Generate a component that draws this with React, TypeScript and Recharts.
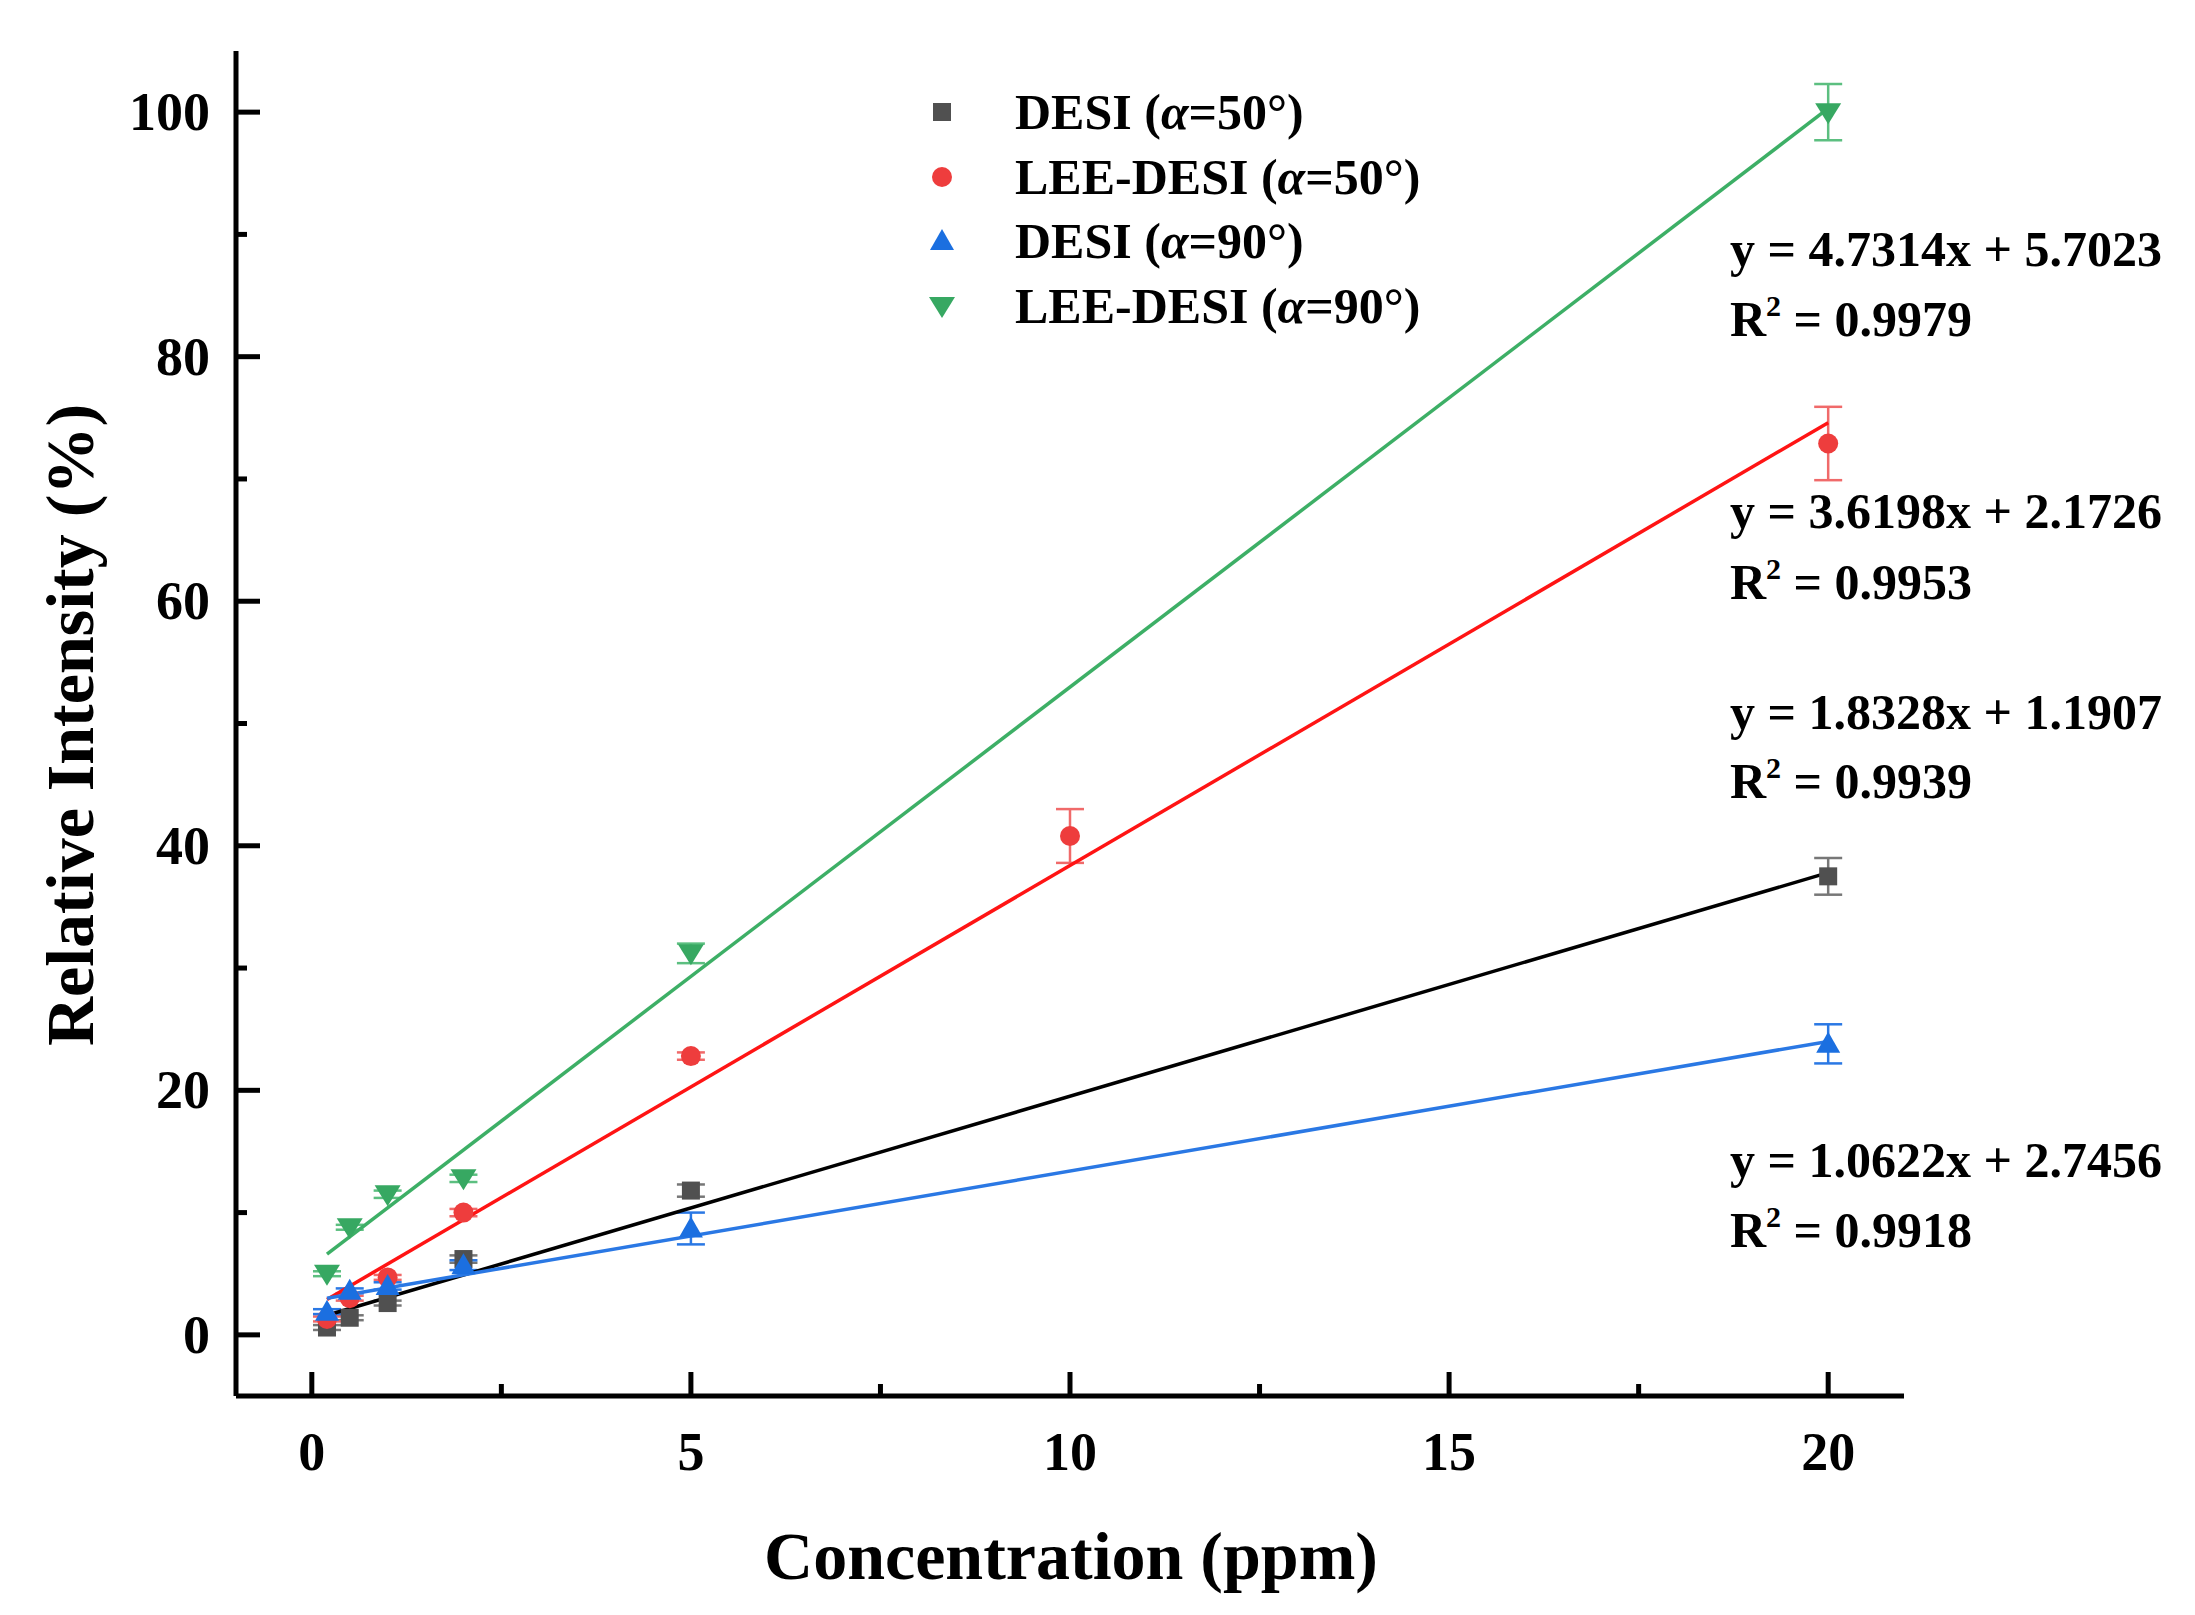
import React from "react";
import { ErrorBar, Scatter, ScatterChart, XAxis, YAxis } from "recharts";

// concentrations (ppm) and relative intensity (%)
const concDesi50 = [0.2, 0.5, 1, 2, 5, 20];
const intDesi50 = [0.6, 1.4, 2.6, 6.2, 11.8, 37.5];
const errDesi50 = [0.2, 0.2, 0.2, 0.3, 0.5, 1.5];

const concLee50 = [0.2, 0.5, 1, 2, 5, 10, 20];
const intLee50 = [1.3, 3.0, 4.7, 10.0, 22.8, 40.8, 72.9];
const errLee50 = [0.2, 0.2, 0.2, 0.3, 0.3, 2.2, 3.0];

const concDesi90 = [0.2, 0.5, 1, 2, 5, 20];
const intDesi90 = [1.9, 3.6, 4.0, 5.7, 8.7, 23.8];
const errDesi90 = [0.2, 0.2, 0.3, 0.4, 1.3, 1.6];

const concLee90 = [0.2, 0.5, 1, 2, 5, 20];
const intLee90 = [5.0, 8.8, 11.5, 12.8, 31.2, 100.0];
const errLee90 = [0.2, 0.2, 0.3, 0.3, 0.8, 2.3];

// fitted line end points
const fitX = [0.2, 20];
const fitDesi50 = [1.6, 37.8];
const fitLee50 = [2.9, 74.6];
const fitDesi90 = [3.0, 24.0];
const fitLee90 = [6.6, 100.3];

const seriesNames = [
	"DESI (α=50°)",
	"LEE-DESI (α=50°)",
	"DESI (α=90°)",
	"LEE-DESI (α=90°)",
];
const equations = [
	["y = 4.7314x + 5.7023", "0.9979"],
	["y = 3.6198x + 2.1726", "0.9953"],
	["y = 1.8328x + 1.1907", "0.9939"],
	["y = 1.0622x + 2.7456", "0.9918"],
];

const xTicks = [0, 2.5, 5, 7.5, 10, 12.5, 15, 17.5, 20];
const yTicks = [0, 10, 20, 30, 40, 50, 60, 70, 80, 90, 100];

const FONT = '"Liberation Serif", "Times New Roman", serif';

const zip = (xs: number[], ys: number[], es?: number[]) =>
	xs.map((x, i) => ({ x, y: ys[i], e: es ? es[i] : 0 }));

const Square = ({ cx, cy, fill }: any) => (
	<rect x={cx - 9} y={cy - 9} width={18} height={18} fill={fill} />
);
const Dot = ({ cx, cy, fill }: any) => <circle cx={cx} cy={cy} r={10} fill={fill} />;
const TriUp = ({ cx, cy, fill }: any) => (
	<polygon points={`${cx},${cy - 12} ${cx + 12},${cy + 9} ${cx - 12},${cy + 9}`} fill={fill} />
);
const TriDown = ({ cx, cy, fill }: any) => (
	<polygon points={`${cx - 13},${cy - 9} ${cx + 13},${cy - 9} ${cx},${cy + 12}`} fill={fill} />
);
const NoShape = () => <g />;

function XTick({ x, y, payload }: any) {
	const v = payload.value;
	const major = v % 5 === 0;
	return (
		<g>
			<line x1={x} x2={x} y1={y} y2={y - (major ? 24 : 12)} stroke="#000" strokeWidth={5} />
			{major && (
				<text x={x} y={y + 74} textAnchor="middle" fontFamily={FONT} fontWeight="bold" fontSize={54} fill="#000">
					{v}
				</text>
			)}
		</g>
	);
}

function YTick({ x, y, payload }: any) {
	const v = payload.value;
	const major = v % 20 === 0;
	return (
		<g>
			<line x1={x} x2={x + (major ? 24 : 11)} y1={y} y2={y} stroke="#000" strokeWidth={5} />
			{major && (
				<text x={x - 26} y={y + 18} textAnchor="end" fontFamily={FONT} fontWeight="bold" fontSize={54} fill="#000">
					{v}
				</text>
			)}
		</g>
	);
}

const markerColors = ["#505050", "#ee3d3d", "#1b6fe0", "#37a862"];
const legendShapes = [Square, Dot, TriUp, TriDown];
const legendRows = [104, 169, 233, 298];
const eqBaselines = [
	[258, 328],
	[520, 591],
	[721, 790],
	[1169, 1239],
];

export default function App() {
	return (
		<div style={{ position: "relative", width: 2180, height: 1600 }}>
			<ScatterChart
				width={2180}
				height={1600}
				margin={{ top: 43, right: 284, bottom: 182, left: 168 }}
			>
				<XAxis
					type="number"
					dataKey="x"
					domain={[-1, 21]}
					ticks={xTicks}
					interval={0}
					allowDataOverflow
					height={30}
					tickSize={0}
					tickMargin={0}
					tickLine={false}
					axisLine={{ stroke: "#000", strokeWidth: 5 }}
					tick={(p: any) => <XTick {...p} />}
				/>
				<YAxis
					type="number"
					dataKey="y"
					domain={[-5, 105]}
					ticks={yTicks}
					interval={0}
					allowDataOverflow
					width={60}
					tickSize={0}
					tickMargin={0}
					tickLine={false}
					axisLine={{ stroke: "#000", strokeWidth: 5 }}
					tick={(p: any) => <YTick {...p} />}
				/>

				<Scatter data={zip(fitX, fitLee90)} line={{ stroke: "#3daf66", strokeWidth: 3.5 }} shape={NoShape} isAnimationActive={false} />
				<Scatter data={zip(fitX, fitLee50)} line={{ stroke: "#ff1414", strokeWidth: 3.5 }} shape={NoShape} isAnimationActive={false} />
				<Scatter data={zip(fitX, fitDesi50)} line={{ stroke: "#000000", strokeWidth: 3.5 }} shape={NoShape} isAnimationActive={false} />
				<Scatter data={zip(fitX, fitDesi90)} line={{ stroke: "#2a78e4", strokeWidth: 3.5 }} shape={NoShape} isAnimationActive={false} />

				<Scatter data={zip(concDesi50, intDesi50, errDesi50)} fill={markerColors[0]} shape={Square} isAnimationActive={false}>
					<ErrorBar dataKey="e" direction="y" width={14} stroke="#777777" strokeWidth={2.5} isAnimationActive={false} />
				</Scatter>
				<Scatter data={zip(concLee50, intLee50, errLee50)} fill={markerColors[1]} shape={Dot} isAnimationActive={false}>
					<ErrorBar dataKey="e" direction="y" width={14} stroke="#f06a6a" strokeWidth={2.5} isAnimationActive={false} />
				</Scatter>
				<Scatter data={zip(concDesi90, intDesi90, errDesi90)} fill={markerColors[2]} shape={TriUp} isAnimationActive={false}>
					<ErrorBar dataKey="e" direction="y" width={14} stroke="#2a78e4" strokeWidth={2.5} isAnimationActive={false} />
				</Scatter>
				<Scatter data={zip(concLee90, intLee90, errLee90)} fill={markerColors[3]} shape={TriDown} isAnimationActive={false}>
					<ErrorBar dataKey="e" direction="y" width={14} stroke="#5cbf80" strokeWidth={2.5} isAnimationActive={false} />
				</Scatter>
			</ScatterChart>

			<svg
				width={2180}
				height={1600}
				style={{ position: "absolute", left: 0, top: 0, pointerEvents: "none" }}
				fontFamily={FONT}
				fontWeight="bold"
			>
				{/* legend */}
				{seriesNames.map((name, i) => {
					const Shape = legendShapes[i];
					const [head, rest] = name.split("α");
					return (
						<g key={name}>
							<Shape cx={934} cy={legendRows[i]} fill={markerColors[i]} />
							<text x={1007} y={legendRows[i] + 17} fontSize={50} fill="#000">
								{head}
								<tspan fontStyle="italic">α</tspan>
								{rest}
							</text>
						</g>
					);
				})}

				{/* fit equations */}
				{equations.map(([eq, r2], i) => (
					<g key={eq}>
						<text x={1722} y={eqBaselines[i][0]} fontSize={50} fill="#000">
							{eq}
						</text>
						<text x={1722} y={eqBaselines[i][1]} fontSize={50} fill="#000">
							R
							<tspan dy={-20} fontSize={30}>2</tspan>
							<tspan dy={20}>{` = ${r2}`}</tspan>
						</text>
					</g>
				))}

				{/* axis titles */}
				<text x={1063} y={1571} textAnchor="middle" fontSize={68} fill="#000">
					Concentration (ppm)
				</text>
				<text transform="translate(85,717) rotate(-90)" textAnchor="middle" fontSize={68} fill="#000">
					Relative Intensity (%)
				</text>
			</svg>
		</div>
	);
}
